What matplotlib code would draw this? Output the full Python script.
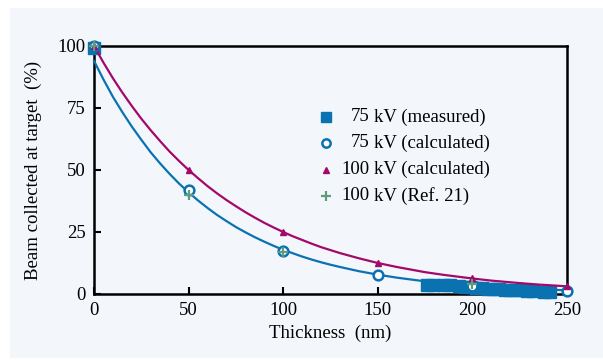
import matplotlib
matplotlib.use("Agg")
import matplotlib.pyplot as plt
from matplotlib.patches import Rectangle

# ---- data ----
meas_t = [0, 176, 179, 185, 188, 193, 196, 199, 202, 205, 208, 211, 214, 217, 220, 223, 226, 229, 232, 238, 241]
meas_v = [99, 3.5, 3.5, 3.5, 3.5, 3.2, 3.0, 2.8, 2.5, 2.3, 2.1, 2.0, 1.9, 1.8, 1.7, 1.6, 1.5, 1.4, 1.3, 0.9, 0.8]

calc75_t = [0, 50, 100, 150, 200, 250]
calc75_v = [100, 42, 17.5, 7.5, 3.2, 1.2]

calc100_t = [0, 50, 100, 150, 200, 250]
calc100_v = [100, 50, 25, 12.5, 6.3, 3.2]

ref21_t = [0, 50, 100, 200]
ref21_v = [100, 40, 17, 4]

curve_t = [0, 5, 10, 15, 20, 25, 30, 35, 40, 45, 50, 55, 60, 65, 70, 75, 80, 85, 90, 95,
           100, 105, 110, 115, 120, 125, 130, 140, 150, 160, 175, 185, 200, 210, 225, 235, 250]
curve75_v = [94, 86.5, 79.5, 73.3, 67.5, 62.2, 57.1, 52.6, 48.4, 44.5, 41, 37.7, 34.7, 31.9,
             29.4, 27.0, 24.9, 22.9, 21.1, 19.4, 17.8, 16.45, 15.1, 13.9, 12.8, 11.8, 10.9,
             9.2, 7.8, 6.6, 5.1, 4.4, 3.4, 2.9, 2.25, 1.9, 1.5]
curve100_v = [100, 93.3, 87, 81.2, 75.8, 70.7, 66, 61.6, 57.4, 53.6, 50, 46.7, 43.5, 40.6,
              37.9, 35.4, 33.0, 30.8, 28.7, 26.8, 25, 23.3, 21.8, 20.3, 18.9, 17.7, 16.5,
              14.4, 12.5, 10.9, 8.8, 7.7, 6.25, 5.4, 4.4, 3.8, 3.1]

xticks = [0, 50, 100, 150, 200, 250]
yticks = [0, 25, 50, 75, 100]

legend_nums = ["75", "75", "100", "100"]
legend_rest = ["kV (measured)", "kV (calculated)", "kV (calculated)", "kV (Ref. 21)"]

BLUE = "#0a72b0"
PURPLE = "#a3086a"
GREEN = "#5e9c7c"
BG = "#f3f7fb"
FS = 13.5

plt.rcParams['font.family'] = ['Liberation Serif', 'DejaVu Serif']

fig = plt.figure(figsize=(6.03, 3.6), dpi=100)
fig.patch.set_facecolor("white")
bgrect = Rectangle((10 / 603, 2 / 360), 1 - 10 / 603, 1 - 10 / 360,
                   transform=fig.transFigure, facecolor=BG,
                   edgecolor="none", zorder=-10)
fig.add_artist(bgrect)

ax = fig.add_axes([94 / 603, 66 / 360, 473 / 603, 248 / 360])
ax.set_zorder(1)
ax.patch.set_alpha(0)

ax.plot(meas_t, meas_v, linestyle="none", marker="s", markersize=8,
        color=BLUE, clip_on=False, zorder=3)
ax.plot(curve_t, curve75_v, color=BLUE, lw=1.6, zorder=4, clip_on=False)
ax.plot(curve_t, curve100_v, color=PURPLE, lw=1.6, zorder=4, clip_on=False)
ax.plot(calc75_t, calc75_v, linestyle="none", marker="o", markersize=7,
        markerfacecolor="white", markeredgecolor=BLUE, markeredgewidth=1.8,
        clip_on=False, zorder=5)
ax.plot(calc100_t, calc100_v, linestyle="none", marker="^", markersize=5,
        color=PURPLE, clip_on=False, zorder=6)
ax.plot(ref21_t, ref21_v, linestyle="none", marker="+", markersize=7,
        markeredgewidth=1.6, color=GREEN, clip_on=False, zorder=7)

ax.set_xlim(0, 250)
ax.set_ylim(0, 100)
ax.set_xticks(xticks)
ax.set_yticks(yticks)
ax.tick_params(direction="in", length=5, width=1.5, labelsize=FS, pad=6,
               top=False, right=False)
for s in ax.spines.values():
    s.set_linewidth(1.8)

ax.set_xlabel("Thickness  (nm)", fontsize=FS, labelpad=4)
ax.set_ylabel("Beam collected at target  (%)", fontsize=FS, labelpad=11)

# manual legend
handles = [dict(marker="s", markersize=7.5, color=BLUE),
           dict(marker="o", markersize=6, markerfacecolor="white",
                markeredgecolor=BLUE, markeredgewidth=1.8),
           dict(marker="^", markersize=5, color=PURPLE),
           dict(marker="+", markersize=7, markeredgewidth=1.6, color=GREEN)]
ys = [0.714, 0.609, 0.502, 0.397]
for h, num, rest, yy in zip(handles, legend_nums, legend_rest, ys):
    ax.plot([0.491], [yy], linestyle="none", transform=ax.transAxes, **h)
    ax.text(0.582, yy, num, transform=ax.transAxes, ha="right", va="center",
            fontsize=FS)
    ax.text(0.593, yy, rest, transform=ax.transAxes, ha="left", va="center",
            fontsize=FS)

fig.savefig("out.png", dpi=100, facecolor=fig.get_facecolor())
